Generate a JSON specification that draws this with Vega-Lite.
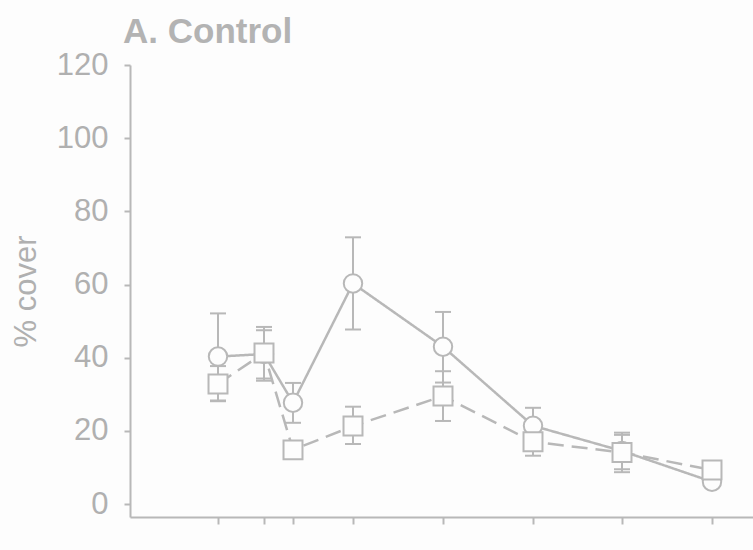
{
  "$schema": "https://vega.github.io/schema/vega-lite/v6.json",
  "width": 623,
  "height": 452,
  "autosize": "none",
  "padding": {"left": 130, "top": 65, "right": 0, "bottom": 33},
  "background": "#fdfdfd",
  "title": {"text": "A. Control", "anchor": "start", "frame": "group", "font": "Liberation Sans", "fontSize": 35, "fontWeight": "bold", "color": "#b3b3b3", "dx": -7, "offset": -1},
  "config": {
    "view": {"stroke": null},
    "axis": {"grid": false, "domainColor": "#b8b8b8", "tickColor": "#b8b8b8", "domainWidth": 2, "tickWidth": 2, "labelColor": "#b0b0b0", "titleColor": "#b0b0b0", "labelFont": "Liberation Sans", "titleFont": "Liberation Sans"}
  },
  "data": {"values": [
    {"series": "C", "x": 88, "mean": 40.3, "lo": 28.3, "hi": 52.1},
    {"series": "C", "x": 134, "mean": 41.0, "lo": 33.7, "hi": 48.4},
    {"series": "C", "x": 163, "mean": 27.7, "lo": 22.2, "hi": 33.1},
    {"series": "C", "x": 223, "mean": 60.3, "lo": 47.7, "hi": 72.9},
    {"series": "C", "x": 313, "mean": 43.0, "lo": 33.2, "hi": 52.5},
    {"series": "C", "x": 403, "mean": 21.4, "lo": 16.5, "hi": 26.3},
    {"series": "C", "x": 492, "mean": 14.5, "lo": 9.5, "hi": 19.5},
    {"series": "C", "x": 582, "mean": 6.1, "lo": 5.0, "hi": 7.2},
    {"series": "S", "x": 88, "mean": 32.8, "lo": 28.1, "hi": 37.7},
    {"series": "S", "x": 134, "mean": 41.3, "lo": 34.3, "hi": 47.5},
    {"series": "S", "x": 163, "mean": 14.8, "lo": 13.0, "hi": 16.6},
    {"series": "S", "x": 223, "mean": 21.3, "lo": 16.4, "hi": 26.6},
    {"series": "S", "x": 313, "mean": 29.5, "lo": 22.7, "hi": 36.3},
    {"series": "S", "x": 403, "mean": 17.0, "lo": 13.2, "hi": 20.8},
    {"series": "S", "x": 492, "mean": 14.1, "lo": 8.7, "hi": 18.9},
    {"series": "S", "x": 582, "mean": 9.3, "lo": 8.5, "hi": 10.0}
  ]},
  "encoding": {
    "x": {"field": "x", "type": "quantitative", "scale": {"domain": [0, 623], "nice": false, "zero": false},
      "axis": {"values": [88, 134, 163, 223, 313, 403, 492, 582], "labels": false, "title": null, "tickSize": 7}}
  },
  "layer": [
    {
      "mark": {"type": "rule", "color": "#b8b8b8", "strokeWidth": 2},
      "encoding": {
        "y": {"field": "lo", "type": "quantitative", "title": "% cover",
          "scale": {"domain": [-3.55, 120], "nice": false, "zero": false},
          "axis": {"values": [0, 20, 40, 60, 80, 100, 120], "labelFontSize": 31, "titleFontSize": 31, "titleFontWeight": "normal", "tickSize": 6, "labelPadding": 16, "titlePadding": 14}},
        "y2": {"field": "hi"}
      }
    },
    {
      "mark": {"type": "tick", "orient": "horizontal", "color": "#b8b8b8", "size": 16, "thickness": 2, "opacity": 1},
      "encoding": {"y": {"field": "lo", "type": "quantitative", "title": "% cover"}}
    },
    {
      "mark": {"type": "tick", "orient": "horizontal", "color": "#b8b8b8", "size": 16, "thickness": 2, "opacity": 1},
      "encoding": {"y": {"field": "hi", "type": "quantitative", "title": "% cover"}}
    },
    {
      "mark": {"type": "line", "color": "#b8b8b8", "strokeWidth": 2.5},
      "encoding": {
        "y": {"field": "mean", "type": "quantitative", "title": "% cover"},
        "strokeDash": {"field": "series", "type": "nominal", "scale": {"domain": ["C", "S"], "range": [[1, 0], [16, 8]]}, "legend": null}
      }
    },
    {
      "transform": [{"filter": "datum.series === 'C'"}],
      "mark": {"type": "point", "shape": "circle", "size": 340, "filled": true, "fill": "#fdfdfd", "stroke": "#b8b8b8", "strokeWidth": 2, "opacity": 1},
      "encoding": {"y": {"field": "mean", "type": "quantitative", "title": "% cover"}}
    },
    {
      "transform": [{"filter": "datum.series === 'S'"}],
      "mark": {"type": "point", "shape": "square", "size": 360, "filled": true, "fill": "#fdfdfd", "stroke": "#b8b8b8", "strokeWidth": 2, "opacity": 1},
      "encoding": {"y": {"field": "mean", "type": "quantitative", "title": "% cover"}}
    }
  ]
}
